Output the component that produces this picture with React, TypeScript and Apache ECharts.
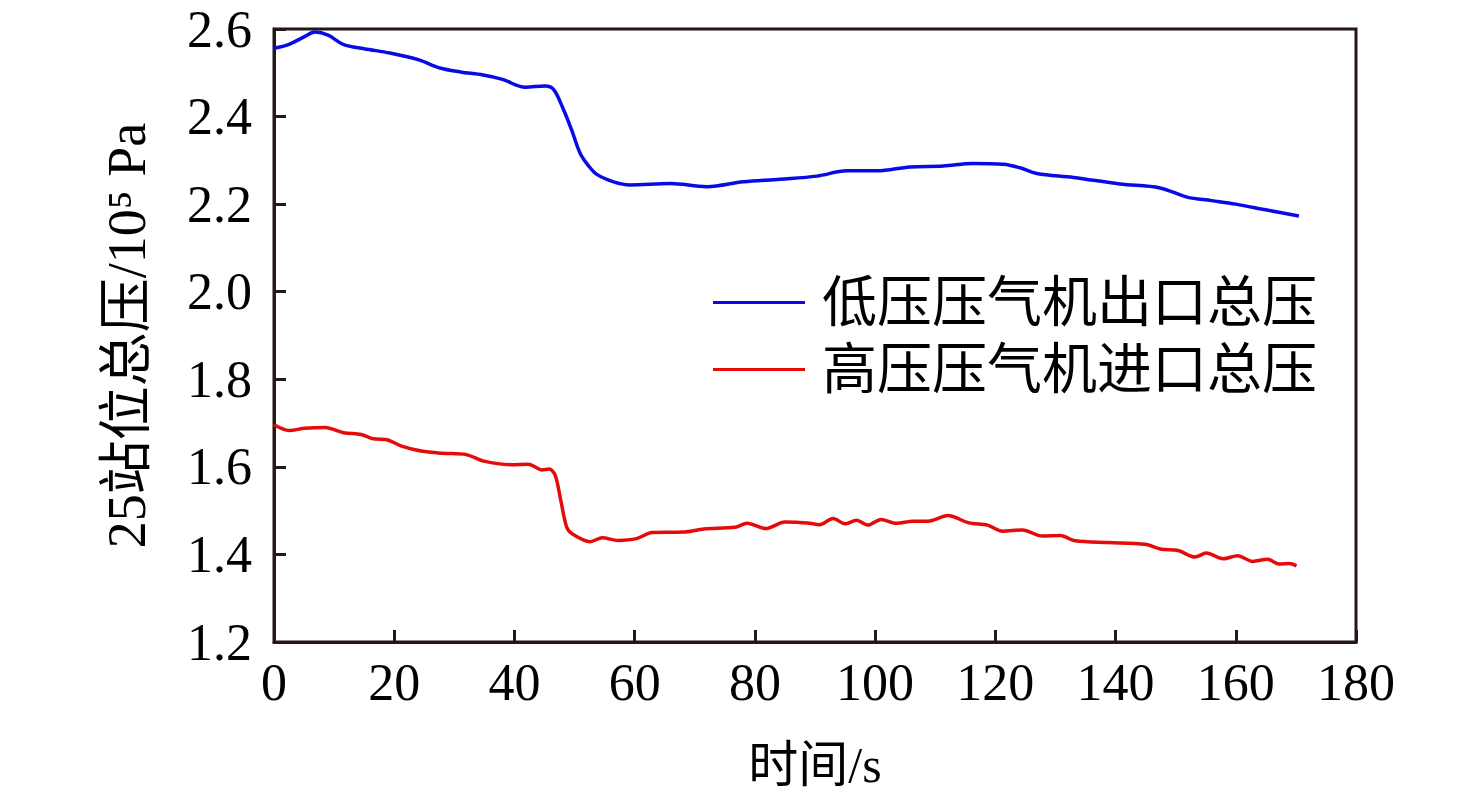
import React, { useEffect, useRef } from "react";
import * as echarts from "echarts";

const xTicks = [0, 20, 40, 60, 80, 100, 120, 140, 160, 180];
const yTicks = [1.2, 1.4, 1.6, 1.8, 2.0, 2.2, 2.4, 2.6];

const seriesNames = ["低压压气机出口总压", "高压压气机进口总压"];

const lpTime = [0, 2.5, 5, 6.8, 9, 11.5, 15, 19.3, 24, 27.6, 31, 34.8, 38, 41.8, 45.1, 46.5, 48.1, 49.5, 50.9, 52.3, 53.7, 56.5, 59.2, 65.9, 72, 78.1, 84.2, 90.3, 95.3, 100.3, 105.8, 111.3, 116.3, 121.3, 124.1, 126.9, 133, 140.7, 147.4, 151.9, 156, 160, 165, 170.5];
const lpValue = [2.556, 2.565, 2.582, 2.593, 2.586, 2.565, 2.555, 2.545, 2.53, 2.511, 2.502, 2.495, 2.485, 2.467, 2.47, 2.462, 2.418, 2.37, 2.317, 2.288, 2.268, 2.251, 2.244, 2.247, 2.24, 2.251, 2.257, 2.264, 2.276, 2.276, 2.285, 2.287, 2.293, 2.291, 2.283, 2.27, 2.261, 2.246, 2.237, 2.216, 2.208, 2.2, 2.187, 2.173];

const hpTime = [0, 2.5, 5.1, 8.5, 11.6, 14.5, 16.5, 18.8, 21.1, 24.5, 28, 32, 34.9, 39.5, 42.3, 44.6, 45.8, 46.8, 47.7, 48.7, 49.7, 52.6, 54.6, 57.2, 60.3, 62.9, 68.1, 71.5, 76.7, 78.7, 81.8, 85, 88.7, 90.8, 93, 95, 96.9, 98.8, 101, 103.5, 106.3, 108.8, 112.1, 115.6, 118.7, 121.2, 124.5, 127.8, 130.8, 133.3, 138.8, 144.9, 147.6, 150.4, 153.2, 155.1, 157.9, 160.3, 162.8, 165.3, 167.2, 168.9, 170.1];
const hpValue = [1.696, 1.683, 1.688, 1.69, 1.678, 1.674, 1.664, 1.662, 1.648, 1.636, 1.631, 1.628, 1.613, 1.605, 1.606, 1.593, 1.595, 1.58, 1.524, 1.462, 1.446, 1.429, 1.438, 1.432, 1.436, 1.45, 1.451, 1.458, 1.462, 1.471, 1.459, 1.474, 1.472, 1.468, 1.482, 1.47, 1.478, 1.467, 1.48, 1.471, 1.476, 1.476, 1.489, 1.472, 1.467, 1.453, 1.456, 1.442, 1.443, 1.431, 1.427, 1.423, 1.412, 1.409, 1.394, 1.403, 1.39, 1.397, 1.384, 1.389, 1.378, 1.379, 1.374];

const SERIF = "'Liberation Serif', 'Times New Roman', 'Noto Sans CJK SC', serif";
const AXIS_COLOR = "#231815";

export default function App() {
  const ref = useRef<HTMLDivElement>(null);
  useEffect(() => {
    document.body.style.margin = "0";
    if (!ref.current) return;
    const chart = echarts.init(ref.current, undefined, { renderer: "svg" });
    const lp = lpTime.map((t, i) => [t, lpValue[i]]);
    const hp = hpTime.map((t, i) => [t, hpValue[i]]);
    chart.setOption({
      animation: false,
      backgroundColor: "#ffffff",
      grid: {
        left: 274,
        top: 29,
        right: 120,
        bottom: 163,
        show: true,
        borderColor: AXIS_COLOR,
        borderWidth: 3,
        backgroundColor: "transparent",
      },
      legend: {
        orient: "vertical",
        left: 708,
        top: 270,
        itemWidth: 92,
        itemHeight: 3,
        itemGap: 12,
        icon: "rect",
        data: seriesNames,
        textStyle: {
          fontFamily: SERIF,
          fontSize: 55,
          color: "#000",
          padding: [0, 0, 0, 12],
        },
      },
      xAxis: {
        type: "value",
        min: xTicks[0],
        max: xTicks[xTicks.length - 1],
        interval: 20,
        name: "时间/s",
        nameLocation: "middle",
        nameGap: 98,
        nameTextStyle: { fontFamily: SERIF, fontSize: 50, color: "#000" },
        axisLine: { show: true, lineStyle: { color: AXIS_COLOR, width: 3 } },
        axisTick: { show: true, inside: true, length: 12, lineStyle: { color: AXIS_COLOR, width: 3 } },
        axisLabel: { fontFamily: SERIF, fontSize: 52, color: "#000", margin: 14 },
        splitLine: { show: false },
      },
      yAxis: {
        type: "value",
        min: yTicks[0],
        max: yTicks[yTicks.length - 1],
        interval: 0.2,
        name: "25站位总压/10⁵ Pa",
        nameLocation: "middle",
        nameGap: 120,
        nameRotate: 90,
        nameTextStyle: { fontFamily: SERIF, fontSize: 54, color: "#000" },
        axisLine: { show: true, lineStyle: { color: AXIS_COLOR, width: 3 } },
        axisTick: { show: true, inside: true, length: 12, lineStyle: { color: AXIS_COLOR, width: 3 } },
        axisLabel: {
          fontFamily: SERIF,
          fontSize: 52,
          color: "#000",
          margin: 22,
          formatter: (v: number) => v.toFixed(1),
        },
        splitLine: { show: false },
      },
      series: [
        {
          name: seriesNames[0],
          type: "line",
          data: lp,
          symbol: "none",
          smooth: 0.35,
          color: "#0a0ae6",
          lineStyle: { width: 3.5, color: "#0a0ae6" },
        },
        {
          name: seriesNames[1],
          type: "line",
          data: hp,
          symbol: "none",
          smooth: 0.3,
          color: "#e60a0a",
          lineStyle: { width: 3.5, color: "#e60a0a" },
        },
      ],
    });
    return () => chart.dispose();
  }, []);
  return <div ref={ref} style={{ width: 1476, height: 805 }} />;
}
